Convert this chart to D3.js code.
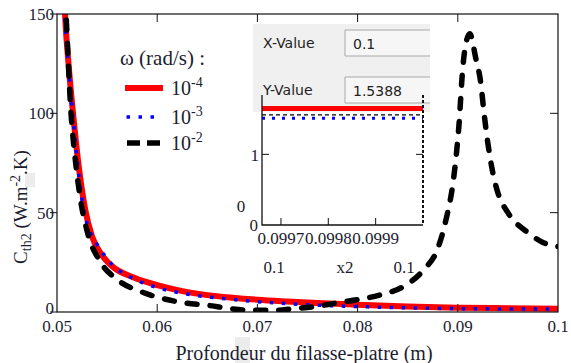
<!DOCTYPE html>
<html>
<head>
<meta charset="utf-8">
<script src="https://cdn.jsdelivr.net/npm/d3@7"></script>
<style>
  body { margin: 0; background: #fff; }
  svg { display: block; }
</style>
</head>
<body>
<div id="chart"></div>
<script>
// values
const depth4 = [0.0506, 0.0508, 0.0512, 0.0516, 0.0522, 0.0528, 0.0535, 0.0543, 0.0555, 0.0576, 0.060, 0.0625, 0.065, 0.0675, 0.070, 0.073, 0.076, 0.080, 0.085, 0.090, 0.095, 0.100];
const cth4   = [175, 150, 122, 100, 72, 52, 38, 30, 23, 17.5, 13.5, 10.5, 8.5, 7.2, 6.2, 5.3, 4.5, 3.7, 2.8, 2.2, 1.9, 1.65];

const depth3 = [0.0506, 0.0508, 0.0512, 0.0516, 0.0522, 0.0526, 0.0533, 0.054, 0.0548, 0.056, 0.0573, 0.0596, 0.0623, 0.066, 0.0696, 0.0743, 0.079, 0.086, 0.0926, 0.100];
const cth3   = [172, 148, 120, 98, 68, 53, 40.4, 34, 28, 21.6, 17.6, 12.9, 9.6, 7.1, 5.4, 3.8, 2.9, 2.0, 1.6, 1.5];

const depth2 = [0.0507, 0.0509, 0.0514, 0.0518, 0.0523, 0.0531, 0.0543, 0.056, 0.0583, 0.0603, 0.0626, 0.0653, 0.0673, 0.0693, 0.072, 0.0736, 0.076, 0.0783, 0.080, 0.0823, 0.0846, 0.0866, 0.088, 0.0888, 0.0896, 0.0901, 0.0905, 0.0908, 0.0912, 0.0918, 0.0923, 0.0926, 0.093, 0.0935, 0.094, 0.095, 0.097, 0.0985, 0.100];
const cth2   = [170, 150, 100, 78, 58, 39, 25.5, 16.3, 10.4, 7.1, 4.7, 3.2, 1.7, 0.9, 0.9, 1.7, 2.9, 4.9, 6.2, 8.7, 12.9, 21.3, 32, 46, 68, 93, 123, 135, 140, 127.6, 115, 101, 85, 70, 60, 50, 40, 35, 33];

const xTicks = [0.05, 0.06, 0.07, 0.08, 0.09, 0.1];
const yTicks = [0, 50, 100, 150];

// zoomed trace window (Mathcad inset)
const insetX = [0.09966, 0.1];
const insetRed = [1.65, 1.65];
const insetBlack = [1.56, 1.56];
const insetBlue = [1.51, 1.51];
const insetXTicks = [0.0997, 0.0998, 0.0999];
const insetYTicks = [1];

const legendLabels = ["-4", "-3", "-2"];

const width = 571, height = 363;
const margin = { top: 14, right: 13, bottom: 51, left: 57 };
const ink = "#1c1c30";
const serif = "'Liberation Serif'";
const sans = "'DejaVu Sans'";

const svg = d3.select("#chart").append("svg")
    .attr("width", width)
    .attr("height", height);

// leftover grey patches from the screenshot
svg.append("rect").attr("x", 25).attr("y", 173).attr("width", 10).attr("height", 14).attr("fill", "#ececec");
svg.append("rect").attr("x", 235).attr("y", 337).attr("width", 15).attr("height", 26).attr("fill", "#ececec");

const x = d3.scaleLinear().domain([0.05, 0.1]).range([margin.left, width - margin.right]);
const y = d3.scaleLinear().domain([0, 150]).range([height - margin.bottom, margin.top]);

svg.append("defs").append("clipPath").attr("id", "plotClip")
  .append("rect")
    .attr("x", x(0.05)).attr("y", y(150))
    .attr("width", x(0.1) - x(0.05)).attr("height", y(0) - y(150));

const line = d3.line()
    .x(function(d) { return x(d[0]); })
    .y(function(d) { return y(d[1]); })
    .curve(d3.curveMonotoneX);

const curves = svg.append("g").attr("clip-path", "url(#plotClip)");

curves.append("path")
    .datum(d3.zip(depth4, cth4))
    .attr("d", line)
    .attr("fill", "none")
    .attr("stroke", "#ff0000")
    .attr("stroke-width", 6);

curves.append("path")
    .datum(d3.zip(depth3, cth3))
    .attr("d", line)
    .attr("fill", "none")
    .attr("stroke", "#0000ff")
    .attr("stroke-width", 3.5)
    .attr("stroke-dasharray", "3.5,8.5");

curves.append("path")
    .datum(d3.zip(depth2, cth2))
    .attr("d", line)
    .attr("fill", "none")
    .attr("stroke", "#000")
    .attr("stroke-width", 5.5)
    .attr("stroke-linecap", "round")
    .attr("stroke-dasharray", "10,13");

// frame
svg.append("rect")
    .attr("x", x(0.05)).attr("y", y(150))
    .attr("width", x(0.1) - x(0.05)).attr("height", y(0) - y(150))
    .attr("fill", "none").attr("stroke", "#111").attr("stroke-width", 1.2);

// ticks: left outward, others inward
const tickLen = 8;
svg.append("g").selectAll("line").data(xTicks.slice(1, -1)).enter().append("line")
    .attr("x1", function(d) { return x(d); }).attr("x2", function(d) { return x(d); })
    .attr("y1", y(0)).attr("y2", y(0) - tickLen)
    .attr("stroke", "#111");
svg.append("g").selectAll("line").data(xTicks.slice(1, -1)).enter().append("line")
    .attr("x1", function(d) { return x(d); }).attr("x2", function(d) { return x(d); })
    .attr("y1", y(150)).attr("y2", y(150) + tickLen)
    .attr("stroke", "#111");
svg.append("g").selectAll("line").data(yTicks).enter().append("line")
    .attr("x1", x(0.05) - 7).attr("x2", x(0.05))
    .attr("y1", function(d) { return y(d); }).attr("y2", function(d) { return y(d); })
    .attr("stroke", "#111");
svg.append("g").selectAll("line").data(yTicks.slice(1, -1)).enter().append("line")
    .attr("x1", x(0.1) - tickLen).attr("x2", x(0.1))
    .attr("y1", function(d) { return y(d); }).attr("y2", function(d) { return y(d); })
    .attr("stroke", "#111");

// tick labels
svg.append("g").selectAll("text").data(xTicks).enter().append("text")
    .attr("x", function(d) { return x(d); })
    .attr("y", y(0) + 20)
    .attr("text-anchor", "middle")
    .style("font-family", serif).style("font-size", "17px").attr("fill", ink)
    .text(function(d) { return d === 0.1 ? "0.1" : d3.format(".2f")(d); });

svg.append("g").selectAll("text").data(yTicks).enter().append("text")
    .attr("x", x(0.05) - 3)
    .attr("y", function(d) { return y(d) + 6 - (d === 0 ? 4 : 0); })
    .attr("text-anchor", "end")
    .style("font-family", serif).style("font-size", "17px").attr("fill", ink)
    .text(function(d) { return d; });

// axis titles
svg.append("text")
    .attr("x", 304).attr("y", 360)
    .attr("text-anchor", "middle")
    .style("font-family", serif).style("font-size", "20px").attr("fill", ink)
    .text("Profondeur du filasse-platre (m)");

const yLab = svg.append("text")
    .attr("transform", "translate(27,207) rotate(-90)")
    .attr("text-anchor", "middle")
    .style("font-family", serif).style("font-size", "19px").attr("fill", ink);
yLab.append("tspan").text("C");
yLab.append("tspan").style("font-size", "14px").attr("dy", 4).text("th2");
yLab.append("tspan").attr("dy", -4).text(" (W.m");
yLab.append("tspan").style("font-size", "14px").attr("dy", -7).text("-2");
yLab.append("tspan").attr("dy", 7).text(".K)");

// legend
const legend = svg.append("g");
legend.append("text")
    .attr("x", 120).attr("y", 65)
    .style("font-family", serif).style("font-size", "21px").attr("fill", ink)
    .text("\u03c9 (rad/s) :");

const legendY = [88, 117, 143];
legend.append("line").attr("x1", 125).attr("x2", 163).attr("y1", legendY[0]).attr("y2", legendY[0])
    .attr("stroke", "#ff0000").attr("stroke-width", 6);
legend.append("line").attr("x1", 126.5).attr("x2", 156).attr("y1", legendY[1]).attr("y2", legendY[1])
    .attr("stroke", "#0000ff").attr("stroke-width", 3.5).attr("stroke-dasharray", "3.5,8.5");
legend.append("line").attr("x1", 127).attr("x2", 160).attr("y1", legendY[2]).attr("y2", legendY[2])
    .attr("stroke", "#000").attr("stroke-width", 5.5).attr("stroke-dasharray", "13,7");

legendLabels.forEach(function(lab, i) {
    const t = legend.append("text")
        .attr("x", 171).attr("y", legendY[i] + 7)
        .style("font-family", serif).style("font-size", "20px").attr("fill", ink);
    t.append("tspan").text("10");
    t.append("tspan").style("font-size", "14px").attr("dy", -8).text(lab);
});

// Mathcad trace panel + zoom inset
const panel = svg.append("g");
panel.append("rect")
    .attr("x", 253).attr("y", 24).attr("width", 177).attr("height", 88)
    .attr("fill", "#f0f0f0");

[["X-Value", "0.1", 30], ["Y-Value", "1.5388", 77]].forEach(function(r) {
    panel.append("text")
        .attr("x", 263).attr("y", r[2] + 18)
        .style("font-family", sans).style("font-size", "14px").attr("fill", "#222")
        .text(r[0]);
    panel.append("rect")
        .attr("x", 345).attr("y", r[2]).attr("width", 85).attr("height", 26)
        .attr("fill", "#f6f6f6");
    panel.append("path")
        .attr("d", "M430," + r[2] + "H345V" + (r[2] + 26) + "H430")
        .attr("fill", "none").attr("stroke", "#a8a8a8");
    panel.append("text")
        .attr("x", 353).attr("y", r[2] + 19)
        .style("font-family", sans).style("font-size", "14px").attr("fill", "#222")
        .text(r[1]);
});

const ix = d3.scaleLinear().domain([insetX[0], insetX[1]]).range([262, 423]);
const iy = d3.scaleLinear().domain([0, 1.84]).range([225, 95]);

const iline = d3.line()
    .x(function(d) { return ix(d[0]); })
    .y(function(d) { return iy(d[1]); });

const inset = svg.append("g");
inset.append("path").datum(d3.zip(insetX, insetRed)).attr("d", iline)
    .attr("stroke", "#ff0000").attr("stroke-width", 5).attr("fill", "none");
inset.append("path").datum(d3.zip(insetX, insetBlack)).attr("d", iline)
    .attr("stroke", "#000").attr("stroke-width", 1.3).attr("stroke-dasharray", "4,3").attr("fill", "none");
inset.append("path").datum(d3.zip(insetX, insetBlue)).attr("d", iline)
    .attr("stroke", "#0000ff").attr("stroke-width", 3).attr("stroke-dasharray", "3,7").attr("fill", "none");

inset.append("path")
    .attr("d", "M" + ix(insetX[0]) + "," + iy(1.84) + "V" + iy(0) + "H" + ix(insetX[1]))
    .attr("fill", "none").attr("stroke", "#111").attr("stroke-width", 1.3);
inset.append("line")
    .attr("x1", ix(insetX[1])).attr("x2", ix(insetX[1]))
    .attr("y1", iy(1.84)).attr("y2", iy(0))
    .attr("stroke", "#111").attr("stroke-width", 2).attr("stroke-dasharray", "3,2");

inset.selectAll(".ixt").data(insetXTicks).enter().append("line")
    .attr("x1", function(d) { return ix(d); }).attr("x2", function(d) { return ix(d); })
    .attr("y1", iy(0)).attr("y2", iy(0) - 7)
    .attr("stroke", "#111");
insetYTicks.forEach(function(v) {
    inset.append("line").attr("x1", ix(insetX[0])).attr("x2", ix(insetX[0]) + 7)
        .attr("y1", iy(v)).attr("y2", iy(v)).attr("stroke", "#111");
    inset.append("line").attr("x1", ix(insetX[1]) - 7).attr("x2", ix(insetX[1]))
        .attr("y1", iy(v)).attr("y2", iy(v)).attr("stroke", "#111");
    inset.append("text")
        .attr("x", ix(insetX[0]) - 3).attr("y", iy(v) + 7)
        .attr("text-anchor", "end")
        .style("font-family", serif).style("font-size", "17px").attr("fill", ink)
        .text(v);
});

inset.selectAll(".ixl").data(insetXTicks).enter().append("text")
    .attr("x", function(d) { return ix(d); })
    .attr("y", 244)
    .attr("text-anchor", "middle")
    .style("font-family", serif).style("font-size", "17px").attr("fill", ink)
    .text(function(d) { return d3.format(".4f")(d); });

// Mathcad limit / placeholder labels
const limitLabels = [["0", 258, 231, "end"], ["0", 241, 212, "middle"], ["0.1", 274, 273, "middle"], ["x2", 345, 273, "middle"], ["0.1", 404, 273, "middle"]];
limitLabels.forEach(function(l) {
    inset.append("text")
        .attr("x", l[1]).attr("y", l[2])
        .attr("text-anchor", l[3])
        .style("font-family", serif).style("font-size", "17px").attr("fill", ink)
        .text(l[0]);
});
</script>
</body>
</html>
